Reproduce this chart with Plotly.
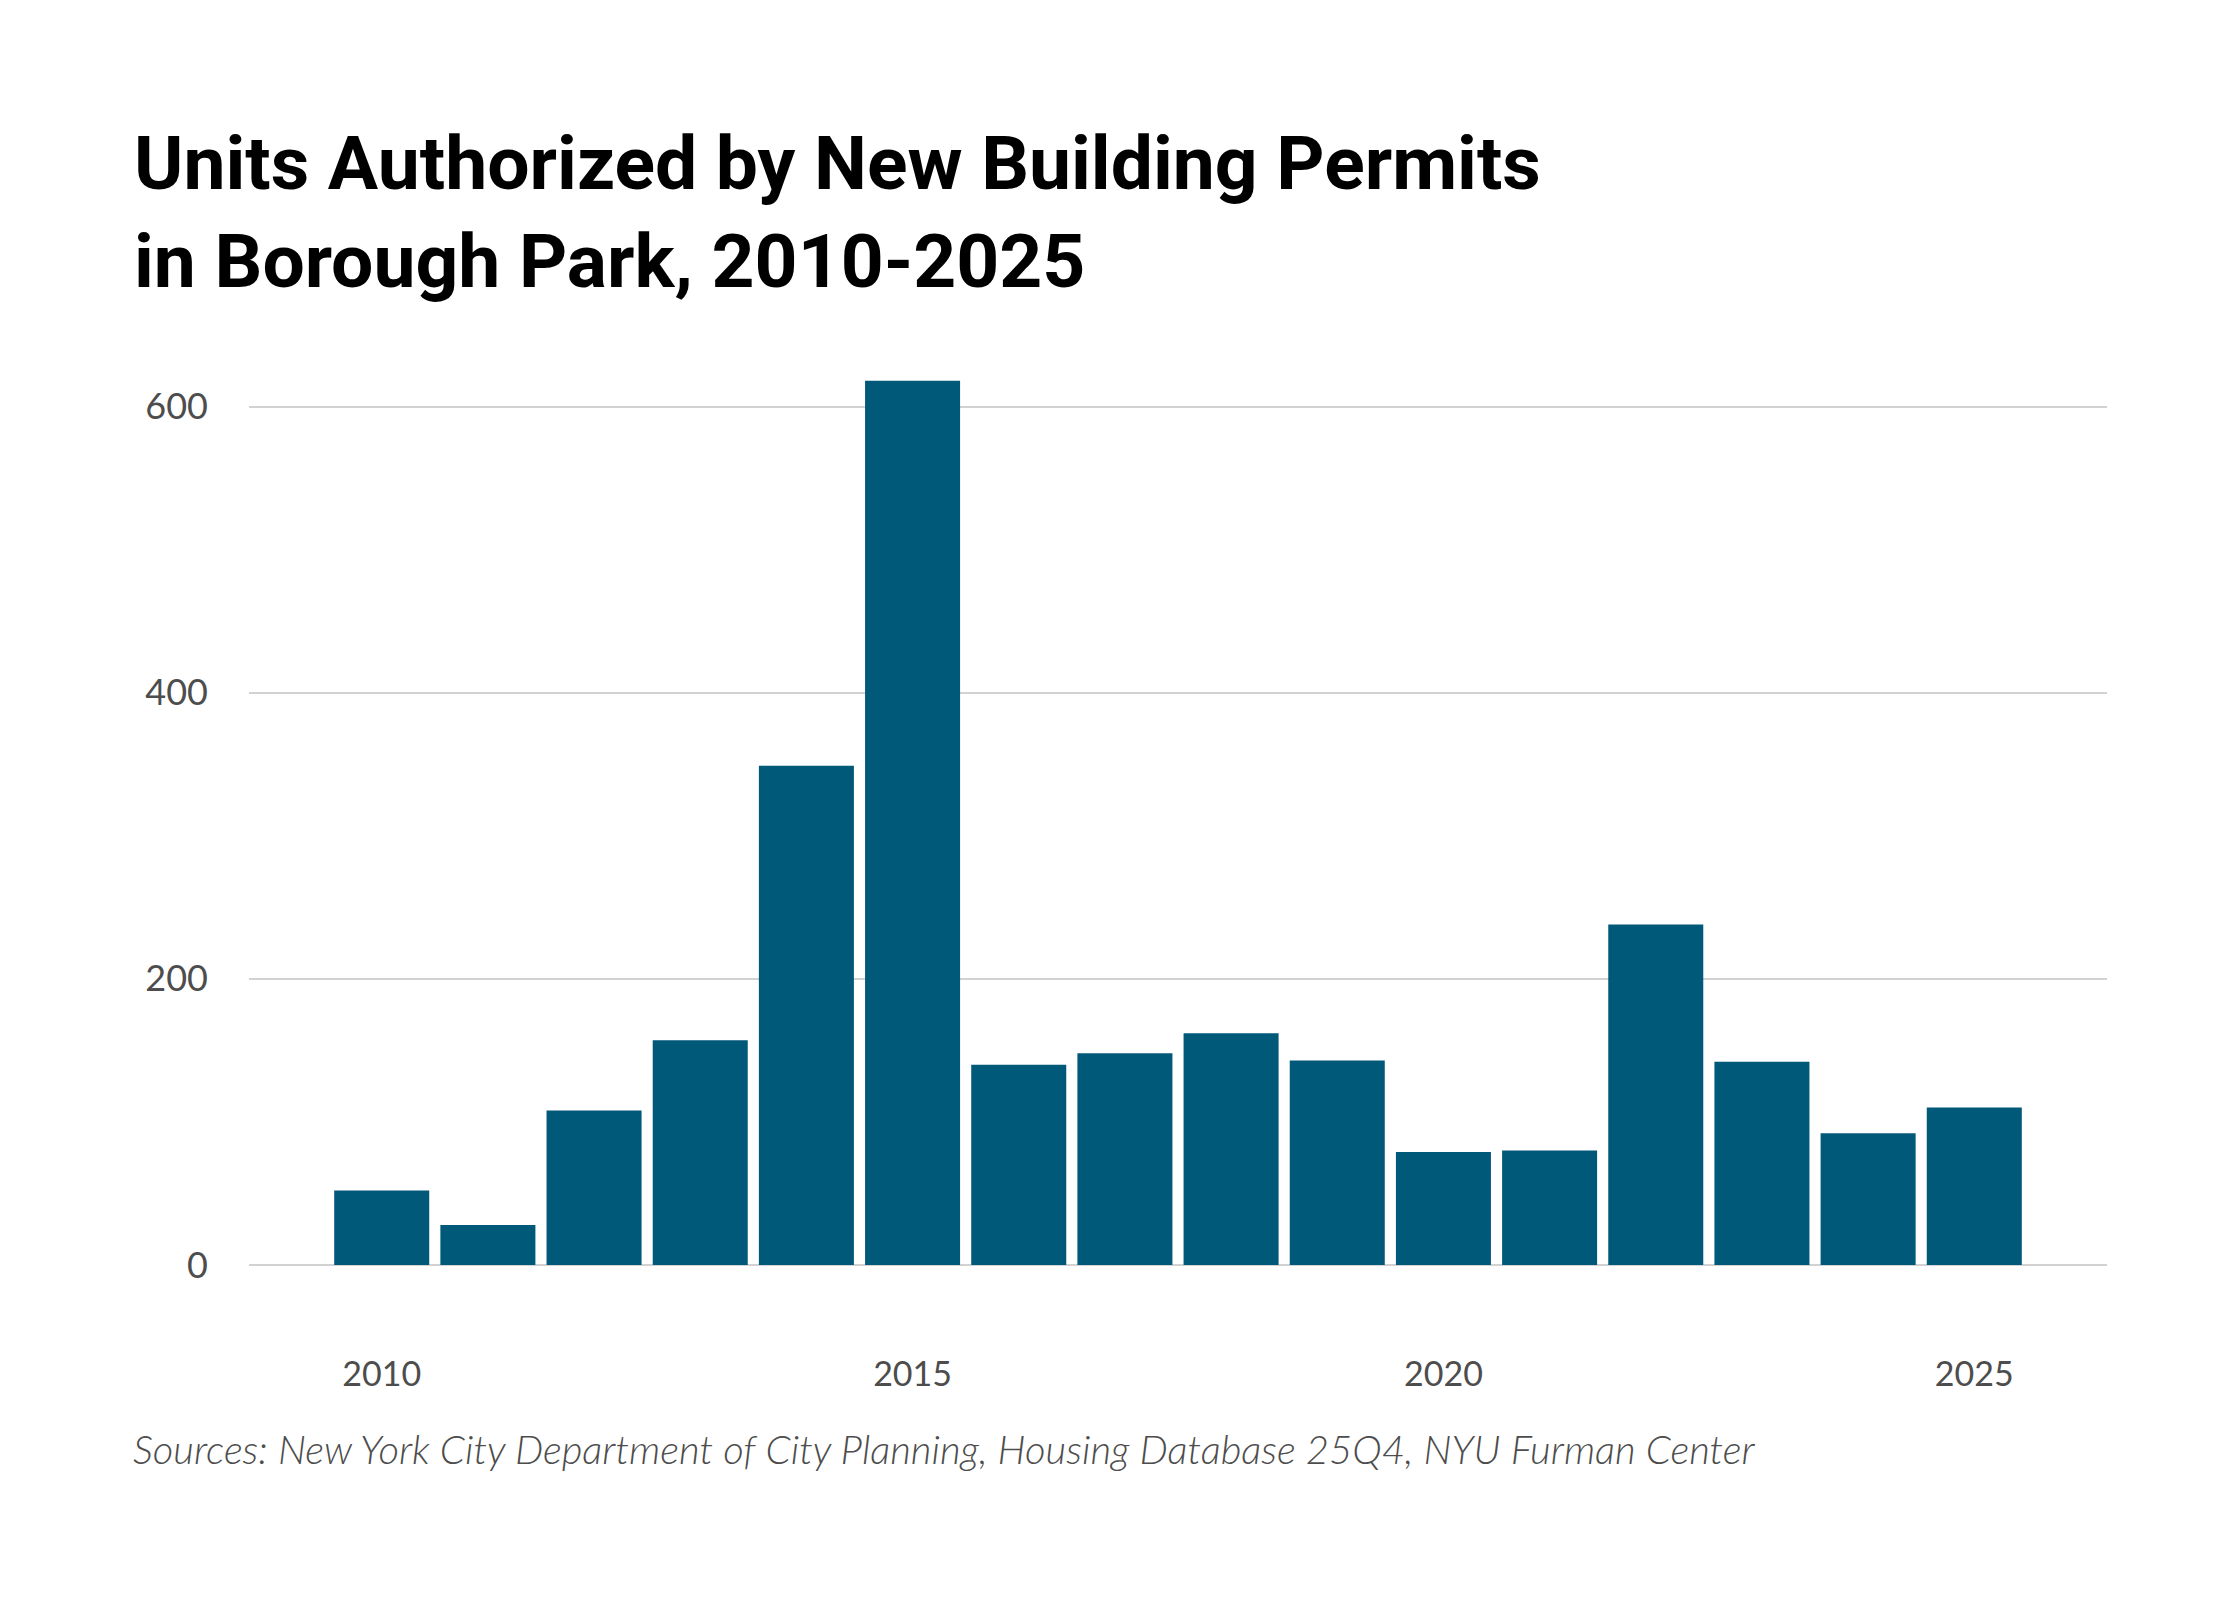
import plotly.graph_objects as go

# permits by year
years = list(range(2010, 2026))
units = [52, 28, 108, 157, 349, 618, 140, 148, 162, 143, 79, 80, 238, 142, 92, 110]

x_ticks = [2010, 2015, 2020, 2025]
x_labels = ['2010', '2015', '2020', '2025']
y_ticks = [0, 200, 400, 600]
y_labels = ['0', '200', '400', '600']

bar_color = '#01597a'
grid_color = '#d2d2d2'
text_grey = '#4d4d4d'

# page body adds ~8px around the figure, so positions are shifted back by that
W, H = 2240, 1600
left, right, top, bottom = 241, 141, 327, 342.5
plot_w = W - left - right
plot_h = H - top - bottom

fig = go.Figure()
fig.add_trace(go.Bar(
    x=years,
    y=units,
    marker=dict(color=bar_color, line=dict(width=0)),
    hoverinfo='x+y'))

fig.update_layout(
    width=W,
    height=H,
    margin=dict(l=left, r=right, t=top, b=bottom),
    paper_bgcolor='white',
    plot_bgcolor='white',
    bargap=0.105,
    showlegend=False,
    font=dict(family='Lato', color=text_grey),
    title=dict(
        text='Units Authorized by New Building Permits<br>in Borough Park, 2010-2025',
        font=dict(family='Roboto', size=75, color='black', weight=700),
        xref='container',
        yref='container',
        x=126 / W,
        xanchor='left',
        y=1 - 181 / H,
        yanchor='top'))

fig.update_xaxes(
    range=[2008.75, 2026.25],
    tickvals=x_ticks,
    ticktext=x_labels,
    tickfont=dict(family='Lato', size=34, color=text_grey),
    showgrid=False,
    zeroline=False,
    showline=False,
    ticks='',
    ticklabelstandoff=86,
    fixedrange=True)

fig.update_yaxes(
    range=[0, 650],
    tickvals=y_ticks,
    ticktext=y_labels,
    tickfont=dict(family='Lato', size=36, color=text_grey),
    showgrid=True,
    gridcolor=grid_color,
    gridwidth=2,
    zeroline=True,
    zerolinecolor=grid_color,
    zerolinewidth=2,
    showline=False,
    ticks='',
    ticklabelstandoff=40,
    fixedrange=True)

fig.add_annotation(
    text='Sources: New York City Department of City Planning, Housing Database 25Q4, NYU Furman Center',
    font=dict(family='Lato', size=40, color=text_grey, style='italic', weight=300),
    showarrow=False,
    xref='paper',
    yref='paper',
    x=(123 - left) / plot_w,
    y=-(1442 - (H - bottom)) / plot_h,
    xanchor='left',
    yanchor='middle',
    align='left')

fig.write_html('out.html')
